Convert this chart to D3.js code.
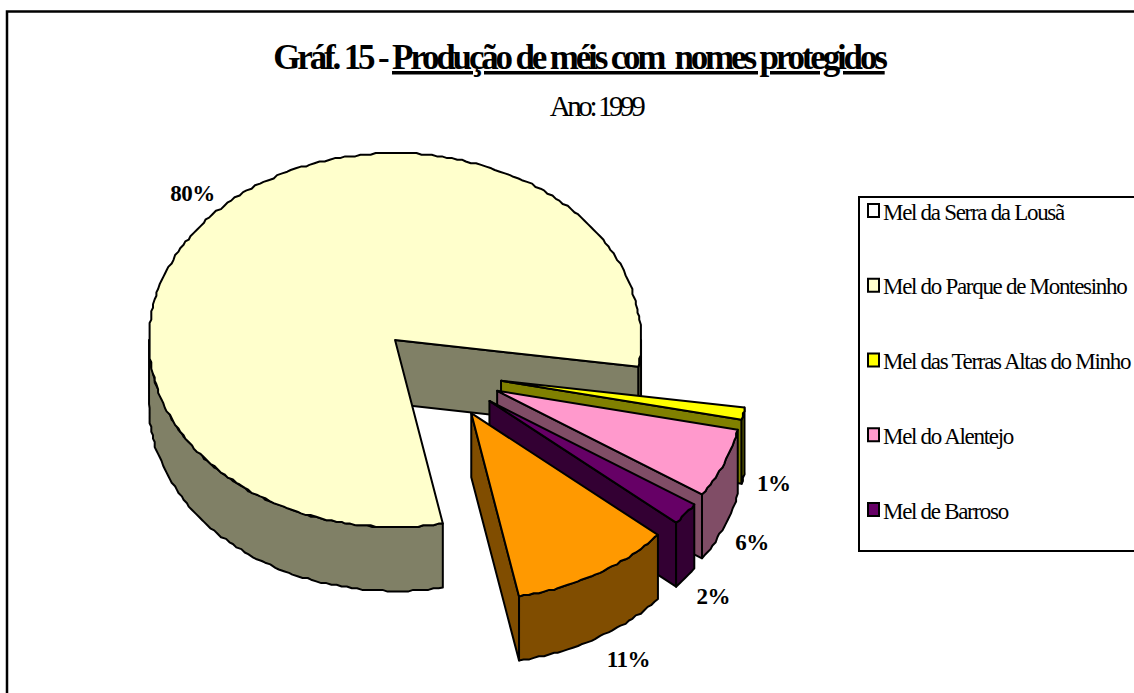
<!DOCTYPE html>
<html><head><meta charset="utf-8">
<script src="https://cdn.jsdelivr.net/npm/d3@7"></script>
<style>
html,body{margin:0;padding:0;background:#fff;overflow:hidden}
svg{display:block}
text{font-family:"Liberation Serif","Times New Roman",serif;fill:#000}
</style></head><body>
<svg id="c" width="1134" height="693"></svg>
<script>
const categories=["Mel da Serra da Lousã","Mel do Parque de Montesinho","Mel das Terras Altas do Minho","Mel do Alentejo","Mel de Barroso",""];
const legendNames=categories.slice(0,5);
const values=[0,80.4,1.05,6,1.95,10.6];
const topColors=["#FFFFFF","#FFFFCC","#FFFF00","#FF99CC","#660066","#FF9900"];
const wallColors=["#808080","#808066","#808000","#804D66","#330033","#804D00"];
const titleLead="Gráf. 15 - ";
const titleMain="Produção de méis com  nomes protegidos";
const subtitle="Ano: 1999";

const svg=d3.select("#c");
const deg=Math.PI/180;
const startDeg=168.8;
const R=246, tilt=0.76, depth=64, explode=62, labelR=282, cx=440, cy=372.5;
const sx=d3.scaleLinear().domain([-1,1]).range([cx-R,cx+R]);
const sy=d3.scaleLinear().domain([-1,1]).range([cy-R*tilt,cy+R*tilt]);
const total=d3.sum(values);
const pct=d3.format(".0%");
const pie=d3.pie().sort(null).value(d=>d).startAngle(startDeg*deg).endAngle(startDeg*deg+2*Math.PI);
const arcs=pie(values).map((a,i)=>({...a,i}));

// frame: its right and bottom sides run off the picture
svg.append("rect").attr("x",7).attr("y",11.5).attr("width",1200).attr("height",760)
  .attr("fill","#fff").attr("stroke","#000").attr("stroke-width",2.5);

// titles
const t=svg.append("text").attr("x",579).attr("y",69).attr("text-anchor","middle")
  .attr("font-size",35).attr("font-weight","bold").attr("letter-spacing",-3.17).style("white-space","pre");
t.append("tspan").text(titleLead);
t.append("tspan").style("text-decoration","underline").style("text-decoration-thickness","4px").style("text-underline-offset","5px").text(titleMain);
svg.append("text").attr("x",596).attr("y",116).attr("text-anchor","middle")
  .attr("font-size",29).attr("letter-spacing",-3.4).text(subtitle);

const dirX=a=>Math.sin(a), dirY=a=>-Math.cos(a);
const grid=1.7; // coarse metafile-like resolution gives the slightly jagged rims
const snap=v=>Math.round(v/grid)*grid;
const line=d3.line();
function centerOf(d){
  const m=(d.startAngle+d.endAngle)/2;
  return [dirX(m)*explode/R,dirY(m)*explode/R];
}
function pt(c,a,r,dz){return [sx(c[0]+dirX(a)*r),sy(c[1]+dirY(a)*r)+(dz||0)];}
function rim(c,a0,a1,dz){
  const n=Math.max(2,Math.ceil(Math.abs(a1-a0)/deg/1.2));
  return d3.range(n+1).map(k=>{
    const a=a0+(a1-a0)*k/n, p=pt(c,a,1,dz);
    return (k===0||k===n)?p:[snap(p[0]),snap(p[1])];
  });
}

// percentage labels sit under the pie (the rim clips the 80% label)
const labelNudge=[[0,0],[2,0],[-5,0],[-5,4],[-1,2],[15,-3]];
arcs.filter(d=>d.value>0).forEach(d=>{
  const c=centerOf(d), m=(d.startAngle+d.endAngle)/2;
  const p=pt(c,m,labelR/R,0);
  const front=Math.cos(m)<0;
  svg.append("text").attr("x",p[0]+labelNudge[d.i][0]).attr("y",p[1]+(front?depth:0)+labelNudge[d.i][1])
    .attr("dy","0.35em").attr("text-anchor","middle")
    .attr("font-size",23).attr("font-weight","bold").attr("letter-spacing",-0.5).text(pct(d.value/total));
});

const g=svg.append("g").attr("stroke","#000").attr("stroke-width",2).attr("stroke-linejoin","round");
function poly(points,fill){g.append("path").attr("d",line(points)+"Z").attr("fill",fill);}
function outerWall(c,a0,a1,fill){
  // only the parts of the rim facing the viewer (between 90° and 270°) are visible
  [[90,270],[450,630]].forEach(([lo,hi])=>{
    const s=Math.max(a0,lo*deg), e=Math.min(a1,hi*deg);
    if(e>s) poly(rim(c,s,e,0).concat(rim(c,e,s,depth)),fill);
  });
}

// pie order already runs big slice, then exploded slices back to front
arcs.filter(d=>d.value>0).forEach(d=>{
  const c=centerOf(d), top=topColors[d.i], wall=wallColors[d.i];
  const a0=d.startAngle,a1=d.endAngle,o=pt(c,a0,0,0),e=pt(c,a1,1,0);
  poly([o,e,[e[0],e[1]+depth],[o[0],o[1]+depth]],wall);
  outerWall(c,a0,a1,wall);
  poly([o].concat(rim(c,a0,a1,0)),top);
});

// legend (clipped by the picture's right edge)
svg.append("rect").attr("x",859).attr("y",197).attr("width",400).attr("height",354)
  .attr("fill","#fff").attr("stroke","#000").attr("stroke-width",2);
const ly=d3.scalePoint().domain(legendNames).range([211,510]);
legendNames.forEach((n,i)=>{
  svg.append("rect").attr("x",868).attr("y",ly(n)-7).attr("width",11).attr("height",13)
    .attr("fill",topColors[i]).attr("stroke","#000").attr("stroke-width",2);
  svg.append("text").attr("x",883).attr("y",ly(n)+8.5).attr("font-size",23)
    .attr("letter-spacing",-1.3).text(n);
});
</script>
</body></html>
